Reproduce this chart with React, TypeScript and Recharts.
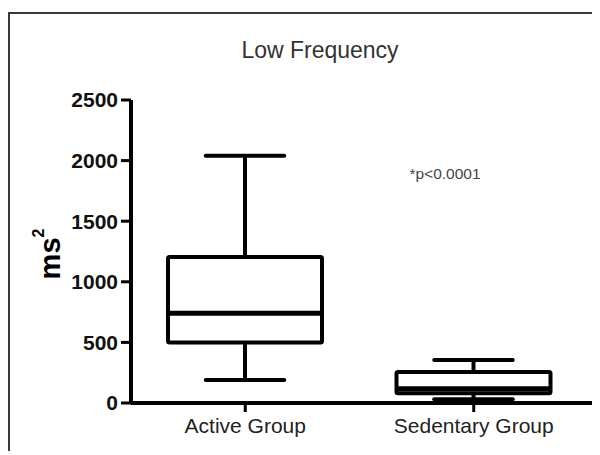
import React from 'react';
import { ComposedChart, Bar, XAxis, YAxis, Customized } from 'recharts';

const categories = ['Active Group', 'Sedentary Group'];
const minValues = [190, 30];
const q1Values = [500, 80];
const medianValues = [740, 118];
const q3Values = [1205, 255];
const maxValues = [2040, 355];
const yTicks = [0, 500, 1000, 1500, 2000, 2500];

const chartTitle = 'Low Frequency';
const pValueText = '*p<0.0001';

const data = categories.map((name, i) => ({
  name,
  min: minValues[i],
  q1: q1Values[i],
  median: medianValues[i],
  q3: q3Values[i],
  max: maxValues[i],
}));

const FONT = '"Liberation Sans", Arial, Helvetica, sans-serif';

const BoxShape = (props: any) => {
  const { x, y, width, height, payload } = props;
  const base = y + height;
  const toPx = (v: number) => base - (v / payload.max) * height;
  const cx = x + width / 2;
  const capHalf = width * 0.255;
  const yMax = toPx(payload.max);
  const yQ3 = toPx(payload.q3);
  const yMed = toPx(payload.median);
  const yQ1 = toPx(payload.q1);
  const yMin = toPx(payload.min);
  const sw = 4;
  return (
    <g>
      <line x1={cx} x2={cx} y1={yMax} y2={yQ3} stroke="#000" strokeWidth={sw} />
      <line x1={cx} x2={cx} y1={yQ1} y2={yMin} stroke="#000" strokeWidth={sw} />
      <line x1={cx - capHalf} x2={cx + capHalf} y1={yMax} y2={yMax} stroke="#000" strokeWidth={sw} strokeLinecap="round" />
      <line x1={cx - capHalf} x2={cx + capHalf} y1={yMin} y2={yMin} stroke="#000" strokeWidth={sw} strokeLinecap="round" />
      <rect x={x} y={yQ3} width={width} height={yQ1 - yQ3} fill="#fff" stroke="#000" strokeWidth={sw} rx={1.5} />
      <line x1={x} x2={x + width} y1={yMed} y2={yMed} stroke="#000" strokeWidth={5} />
    </g>
  );
};

const Annotations = () => (
  <g>
    <text x={310} y={36} textAnchor="middle" dominantBaseline="central" fontSize={23} fill="#333" fontFamily={FONT}>
      {chartTitle}
    </text>
    <text x={435} y={159} textAnchor="middle" dominantBaseline="central" fontSize={15.5} fill="#444" fontFamily={FONT}>
      {pValueText}
    </text>
  </g>
);

const YLabel = () => (
  <text
    transform="translate(40, 240) rotate(-90)"
    textAnchor="middle"
    dominantBaseline="central"
    fontSize={29}
    fontWeight="bold"
    fill="#000"
    fontFamily={FONT}
  >
    ms<tspan fontSize={16} dy={-12}>2</tspan>
  </text>
);

export default function App() {
  return (
    <div
      style={{
        position: 'relative',
        top: 4,
        width: 590,
        height: 441,
        borderTop: '2px solid #3a3a3a',
        borderLeft: '2px solid #3a3a3a',
        background: '#fff',
      }}
    >
      <ComposedChart width={590} height={441} data={data} margin={{ top: 86, right: 8, bottom: 0, left: 0 }}>
        <XAxis
          dataKey="name"
          height={52}
          interval={0}
          padding={{ left: 0, right: 4 }}
          axisLine={{ stroke: '#000', strokeWidth: 4 }}
          tickLine={{ stroke: '#000', strokeWidth: 3 }}
          tickSize={9}
          tickMargin={6}
          tick={{ fill: '#222', fontSize: 21, fontFamily: FONT }}
        />
        <YAxis
          type="number"
          domain={[0, 2500]}
          ticks={yTicks}
          width={121}
          interval={0}
          axisLine={{ stroke: '#000', strokeWidth: 4 }}
          tickLine={{ stroke: '#000', strokeWidth: 3 }}
          tickSize={10}
          tickMargin={3}
          tick={{ fill: '#111', fontSize: 21, fontWeight: 'bold', fontFamily: FONT }}
          label={{ content: () => <YLabel /> }}
        />
        <Bar dataKey="max" barSize={154} shape={BoxShape} isAnimationActive={false} />
        <Customized component={Annotations} />
      </ComposedChart>
    </div>
  );
}
